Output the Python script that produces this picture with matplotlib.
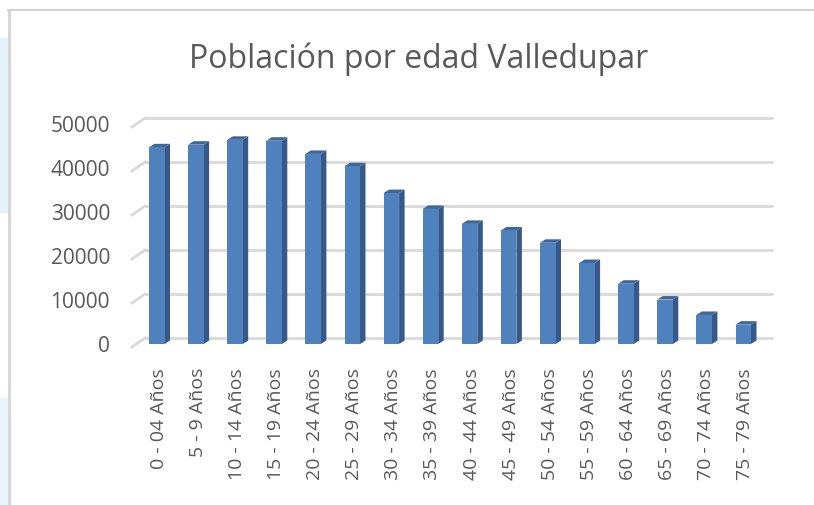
import matplotlib
matplotlib.use('Agg')
import matplotlib.pyplot as plt
from matplotlib.patches import Rectangle
import numpy as np

plt.rcParams['font.family'] = ['Open Sans', 'DejaVu Sans']

# datos
grupos = ['0 - 04 Años', '5 - 9 Años', '10 - 14 Años', '15 - 19 Años',
          '20 - 24 Años', '25 - 29 Años', '30 - 34 Años', '35 - 39 Años',
          '40 - 44 Años', '45 - 49 Años', '50 - 54 Años', '55 - 59 Años',
          '60 - 64 Años', '65 - 69 Años', '70 - 74 Años', '75 - 79 Años']
poblacion = [44700, 45300, 46400, 46200, 43200, 40400, 34300, 30700,
             27300, 25800, 23000, 18400, 13700, 10100, 6600, 4400]
yticks = [0, 10000, 20000, 30000, 40000, 50000]
titulo = 'Población por edad Valledupar'

W, H = 814, 506
gris = '#595959'
azul = '#4F81BD'
lado = '#37598A'
tapa = '#3F679B'
linea = '#D9D9D9'

fig = plt.figure(figsize=(W / 100, H / 100), dpi=100)

# marco y franjas celestes del fondo
fig.patches.append(Rectangle((0, 1 - 213 / H), 7 / W, (213 - 39) / H,
                             transform=fig.transFigure, color='#E6F2FA', zorder=0))
fig.patches.append(Rectangle((0, 0), 7 / W, (506 - 399) / H,
                             transform=fig.transFigure, color='#EAF4FB', zorder=0))
fig.add_artist(plt.Line2D([8 / W, 1], [1 - 11 / H, 1 - 11 / H], color='#D4D4D4', lw=1.5))
fig.add_artist(plt.Line2D([8.5 / W, 8.5 / W], [0, 1 - 11 / H], color='#D4D4D4', lw=2))

# escala: 1 px = 227.3 unidades, barras cada 39.1 px
ppu = 0.0044
px_x = 39.1
x0_px = 156.75
y0_px = 345
left_px, right_px, top_px, bot_px = 120, 790, 100, 360
ax = fig.add_axes([left_px / W, 1 - bot_px / H, (right_px - left_px) / W, (bot_px - top_px) / H])
ax.set_xlim((left_px - x0_px) / px_x, (right_px - x0_px) / px_x)
ax.set_ylim((y0_px - bot_px) / ppu, (y0_px - top_px) / ppu)
ax.axis('off')

u = 1 / ppu          # unidades por pixel en y
ux = 1 / px_x        # unidades por pixel en x

# pared del fondo
xs = np.arange(len(grupos))
wall_dy = 6 * u
for v in yticks:
    ax.plot([(145 - x0_px) * ux, (773 - x0_px) * ux], [v + wall_dy, v + wall_dy],
            color=linea, lw=2, zorder=1, solid_capstyle='butt')
    ax.plot([(132 - x0_px) * ux, (145 - x0_px) * ux], [v - 3 * u, v + wall_dy],
            color=linea, lw=2, zorder=1)

# barras 3D
w = 15.5 * ux
dx, dy = 5.5 * ux, 3.5 * u
ax.bar(xs, poblacion, width=w, color=azul, zorder=4, linewidth=0)
for x, v in zip(xs, poblacion):
    r = x + w / 2
    l = x - w / 2
    ax.fill([r, r + dx, r + dx, r], [0, dy, v + dy, v], color=lado, zorder=3, lw=0)
    ax.fill([l, l + dx, r + dx, r], [v, v + dy, v + dy, v], color=tapa, zorder=3, lw=0)

# etiquetas
for v in yticks:
    fig.text(110 / W, 1 - (y0_px + 1 - v * ppu) / H, str(v), ha='right', va='center',
             fontsize=15, color=gris)
for x, g in zip(xs, grupos):
    xp = x0_px + x * px_x + 2
    fig.text(xp / W, 1 - 368 / H, g, rotation=90, ha='center', va='top',
             fontsize=14, color=gris)

fig.text(419 / W, 1 - 68 / H, titulo, ha='center', va='baseline', fontsize=23, color=gris)

fig.savefig('out.png', dpi=100)
